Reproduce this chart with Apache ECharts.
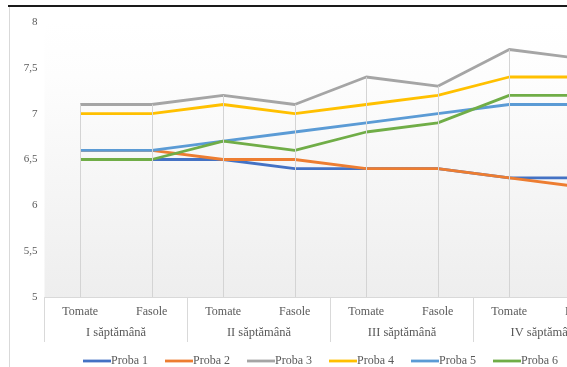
<!DOCTYPE html>
<html>
<head>
<meta charset="utf-8">
<script src="https://cdn.jsdelivr.net/npm/echarts@6/dist/echarts.min.js"></script>
<style>
  html, body { margin: 0; padding: 0; background: #ffffff; }
  #chart { width: 567px; height: 367px; }
</style>
</head>
<body>
<div id="chart"></div>
<script>
// Sub-categories (crop per week) and week groups
const crops = ['Tomate', 'Fasole', 'Tomate', 'Fasole', 'Tomate', 'Fasole', 'Tomate', 'Fasole'];
const weeks = ['I săptămână', 'II săptămână', 'III săptămână', 'IV săptămână'];
const yTicks = [5, 5.5, 6, 6.5, 7, 7.5, 8];

// Measured values per sample
const proba1 = [6.5, 6.5, 6.5, 6.4, 6.4, 6.4, 6.3, 6.3];
const proba2 = [6.6, 6.6, 6.5, 6.5, 6.4, 6.4, 6.3, 6.2];
const proba3 = [7.1, 7.1, 7.2, 7.1, 7.4, 7.3, 7.7, 7.6];
const proba4 = [7.0, 7.0, 7.1, 7.0, 7.1, 7.2, 7.4, 7.4];
const proba5 = [6.6, 6.6, 6.7, 6.8, 6.9, 7.0, 7.1, 7.1];
const proba6 = [6.5, 6.5, 6.7, 6.6, 6.8, 6.9, 7.2, 7.2];

const seriesNames = ['Proba 1', 'Proba 2', 'Proba 3', 'Proba 4', 'Proba 5', 'Proba 6'];
const seriesData = [proba1, proba2, proba3, proba4, proba5, proba6];
const colors = ['#4472C4', '#ED7D31', '#A5A5A5', '#FFC000', '#5B9BD5', '#70AD47'];

const textColor = '#595959';
const fontFamily = '"Liberation Serif", "Times New Roman", serif';
const yMin = yTicks[0], yMax = yTicks[yTicks.length - 1];

// Drop lines: from the highest point of each category down to the axis
const dropLines = crops.map((c, i) => {
  const top = Math.max(...seriesData.map(s => s[i]));
  return [{ coord: [i, top] }, { coord: [i, yMin] }];
});

const chart = echarts.init(document.getElementById('chart'), null, { renderer: 'canvas' });

const series = seriesData.map((d, k) => ({
  name: seriesNames[k],
  type: 'line',
  xAxisIndex: 0,
  data: d,
  symbol: 'none',
  z: 3,
  lineStyle: { width: 2.8, color: colors[k] },
  itemStyle: { color: colors[k] },
  emphasis: { disabled: true }
}));

series.unshift({
  type: 'line',
  xAxisIndex: 0,
  data: [],
  z: 1,
  silent: true,
  markLine: {
    silent: true,
    symbol: 'none',
    label: { show: false },
    lineStyle: { color: '#d4d4d4', width: 1, type: 'solid' },
    emphasis: { disabled: true },
    data: dropLines
  }
});

chart.setOption({
  animation: false,
  backgroundColor: '#ffffff',
  color: colors,
  grid: {
    left: 44.5,
    top: 22,
    width: 572,
    bottom: 70,
    containLabel: false,
    outerBoundsMode: 'none',
    show: true,
    borderWidth: 0,
    backgroundColor: {
      type: 'linear', x: 0, y: 0, x2: 0, y2: 1,
      colorStops: [
        { offset: 0, color: '#ffffff' },
        { offset: 0.2, color: '#fdfdfd' },
        { offset: 1, color: '#eeeeee' }
      ]
    }
  },
  legend: {
    data: seriesNames,
    left: 78,
    top: 350,
    width: 520,
    icon: 'rect',
    itemWidth: 28,
    itemHeight: 2.8,
    itemGap: 17,
    textStyle: { color: textColor, fontFamily: fontFamily, fontSize: 12, padding: [0, 0, 0, -5] },
    selectedMode: false
  },
  xAxis: [
    {
      type: 'category',
      data: crops,
      boundaryGap: true,
      position: 'bottom',
      axisLine: { show: true, lineStyle: { color: '#d9d9d9', width: 1 } },
      axisTick: { show: false },
      splitLine: { show: false },
      axisLabel: { color: textColor, fontFamily: fontFamily, fontSize: 12, margin: 9, interval: 0 }
    },
    {
      type: 'category',
      data: weeks,
      boundaryGap: true,
      position: 'bottom',
      axisLine: { show: false },
      axisTick: { show: true, length: 45, lineStyle: { color: '#d9d9d9', width: 1 } },
      splitLine: { show: false },
      axisLabel: { color: textColor, fontFamily: fontFamily, fontSize: 12.5, margin: 29, interval: 0 }
    }
  ],
  yAxis: {
    type: 'value',
    min: yMin,
    max: yMax,
    interval: 0.5,
    axisLine: { show: false },
    axisTick: { show: false },
    splitLine: { show: false },
    axisLabel: {
      color: textColor,
      fontFamily: fontFamily,
      fontSize: 11,
      margin: 7,
      formatter: v => String(v).replace('.', ',')
    }
  },
  graphic: [
    { type: 'rect', shape: { x: 8, y: 5, width: 560, height: 2 }, style: { fill: '#1a1a1a' }, z: 100 },
    { type: 'rect', shape: { x: 9, y: 7, width: 1, height: 360 }, style: { fill: '#d9d9d9' }, z: 100 }
  ],
  series: series
});
</script>
</body>
</html>
